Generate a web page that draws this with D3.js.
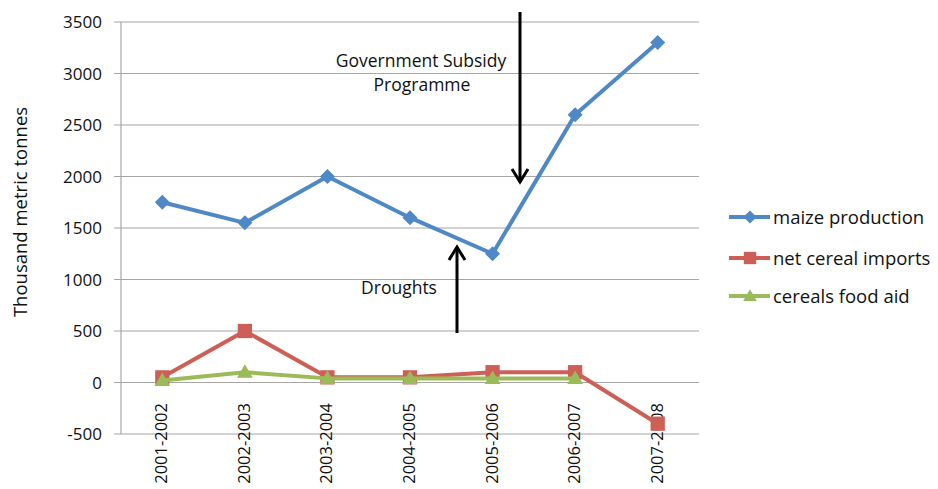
<!DOCTYPE html>
<html><head><meta charset="utf-8">
<script src="https://cdn.jsdelivr.net/npm/d3@7"></script>
<style>body{margin:0;background:#fff;}svg{display:block;font-family:"Open Sans","Liberation Sans",sans-serif;}</style>
</head><body><svg id="c" width="938" height="489"></svg>
<script>
const categories = ["2001-2002","2002-2003","2003-2004","2004-2005","2005-2006","2006-2007","2007-2008"];
const maizeProduction = [1750,1550,2000,1600,1250,2600,3300];
const netCerealImports = [50,500,50,50,100,100,-400];
const cerealsFoodAid = [20,100,40,40,40,40,null];
const yTicks = [-500,0,500,1000,1500,2000,2500,3000,3500];
const seriesNames = ["maize production","net cereal imports","cereals food aid"];
const seriesColors = ["#4f88c6","#cd5f56","#9bbb59"];

const svg = d3.select("#c");
const L=121, R=699, T=22, B=434;
const x = d3.scaleBand().domain(categories).range([L,R]);
const y = d3.scaleLinear().domain([-500,3500]).range([B,T]);
const txt = "#111";

function marker(sel, i, s){
  if(i===0){ sel.attr("d", `M0,${-s}L${s},0L0,${s}L${-s},0Z`); }
  else if(i===1){ const h=s*0.95; sel.attr("d", `M${-h},${-h}H${h}V${h}H${-h}Z`); }
  else { sel.attr("d", `M0,${-s*1.05}L${s*1.05},${s*0.75}H${-s*1.05}Z`); }
  return sel;
}

// gridlines
svg.append("g").selectAll("line").data(yTicks).join("line")
  .attr("x1",L-7).attr("x2",R).attr("y1",d=>y(d)).attr("y2",d=>y(d))
  .attr("stroke","#a6a6a6").attr("stroke-width",1.2);
svg.append("line").attr("x1",L).attr("x2",L).attr("y1",T).attr("y2",B).attr("stroke","#a6a6a6").attr("stroke-width",1.2);

// y tick labels
svg.append("g").selectAll("text").data(yTicks).join("text")
  .attr("x",102).attr("y",d=>y(d)).attr("dy","0.36em").attr("text-anchor","end")
  .attr("font-size",17).attr("fill",txt).text(d=>d);

// x labels rotated
svg.append("g").selectAll("text").data(categories).join("text")
  .attr("transform",d=>`translate(${x(d)+x.bandwidth()/2+5},${403}) rotate(-90)`)
  .attr("text-anchor","end").attr("font-size",16.5).attr("fill",txt).text(d=>d);

// y axis title
svg.append("text").attr("transform","translate(27,212) rotate(-90)").attr("text-anchor","middle")
  .attr("font-size",18.5).attr("fill",txt).text("Thousand metric tonnes");

const allSeries=[maizeProduction,netCerealImports,cerealsFoodAid];
const line = d3.line().defined(d=>d.v!=null).x(d=>x(d.c)+x.bandwidth()/2).y(d=>y(d.v));
allSeries.forEach((s,i)=>{
  const pts = categories.map((c,j)=>({c,v:s[j]}));
  svg.append("path").attr("d",line(pts)).attr("fill","none").attr("stroke",seriesColors[i]).attr("stroke-width",4).attr("stroke-linejoin","round");
  svg.append("g").selectAll("path").data(pts.filter(d=>d.v!=null)).join("path")
    .attr("transform",d=>`translate(${x(d.c)+x.bandwidth()/2},${y(d.v)})`)
    .attr("fill",seriesColors[i]).call(sel=>marker(sel,i,7.5));
});

// annotations
function arrow(x0,y0,y1){
  svg.append("line").attr("x1",x0).attr("x2",x0).attr("y1",y0).attr("y2",y1).attr("stroke","#000").attr("stroke-width",3);
  const dir = y1>y0?-1:1;
  svg.append("path").attr("d",`M${x0-8},${y1+dir*13}L${x0},${y1}L${x0+8},${y1+dir*13}`)
    .attr("fill","none").attr("stroke","#000").attr("stroke-width",3);
}
arrow(520,12,182);
arrow(457,333,247);
svg.append("text").attr("x",421).attr("y",67).attr("text-anchor","middle").attr("font-size",17.5).attr("fill",txt).text("Government Subsidy");
svg.append("text").attr("x",422).attr("y",91).attr("text-anchor","middle").attr("font-size",17.5).attr("fill",txt).text("Programme");
svg.append("text").attr("x",399).attr("y",294).attr("text-anchor","middle").attr("font-size",17.5).attr("fill",txt).text("Droughts");

// legend
const ly=[217,258,296];
seriesNames.forEach((n,i)=>{
  svg.append("line").attr("x1",729).attr("x2",770).attr("y1",ly[i]).attr("y2",ly[i]).attr("stroke",seriesColors[i]).attr("stroke-width",4);
  marker(svg.append("path").attr("transform",`translate(750,${ly[i]})`),i,6.5).attr("fill",seriesColors[i]);
  svg.append("text").attr("x",773).attr("y",ly[i]).attr("dy","0.36em").attr("font-size",18.5).attr("fill",txt).text(n);
});
</script></body></html>
